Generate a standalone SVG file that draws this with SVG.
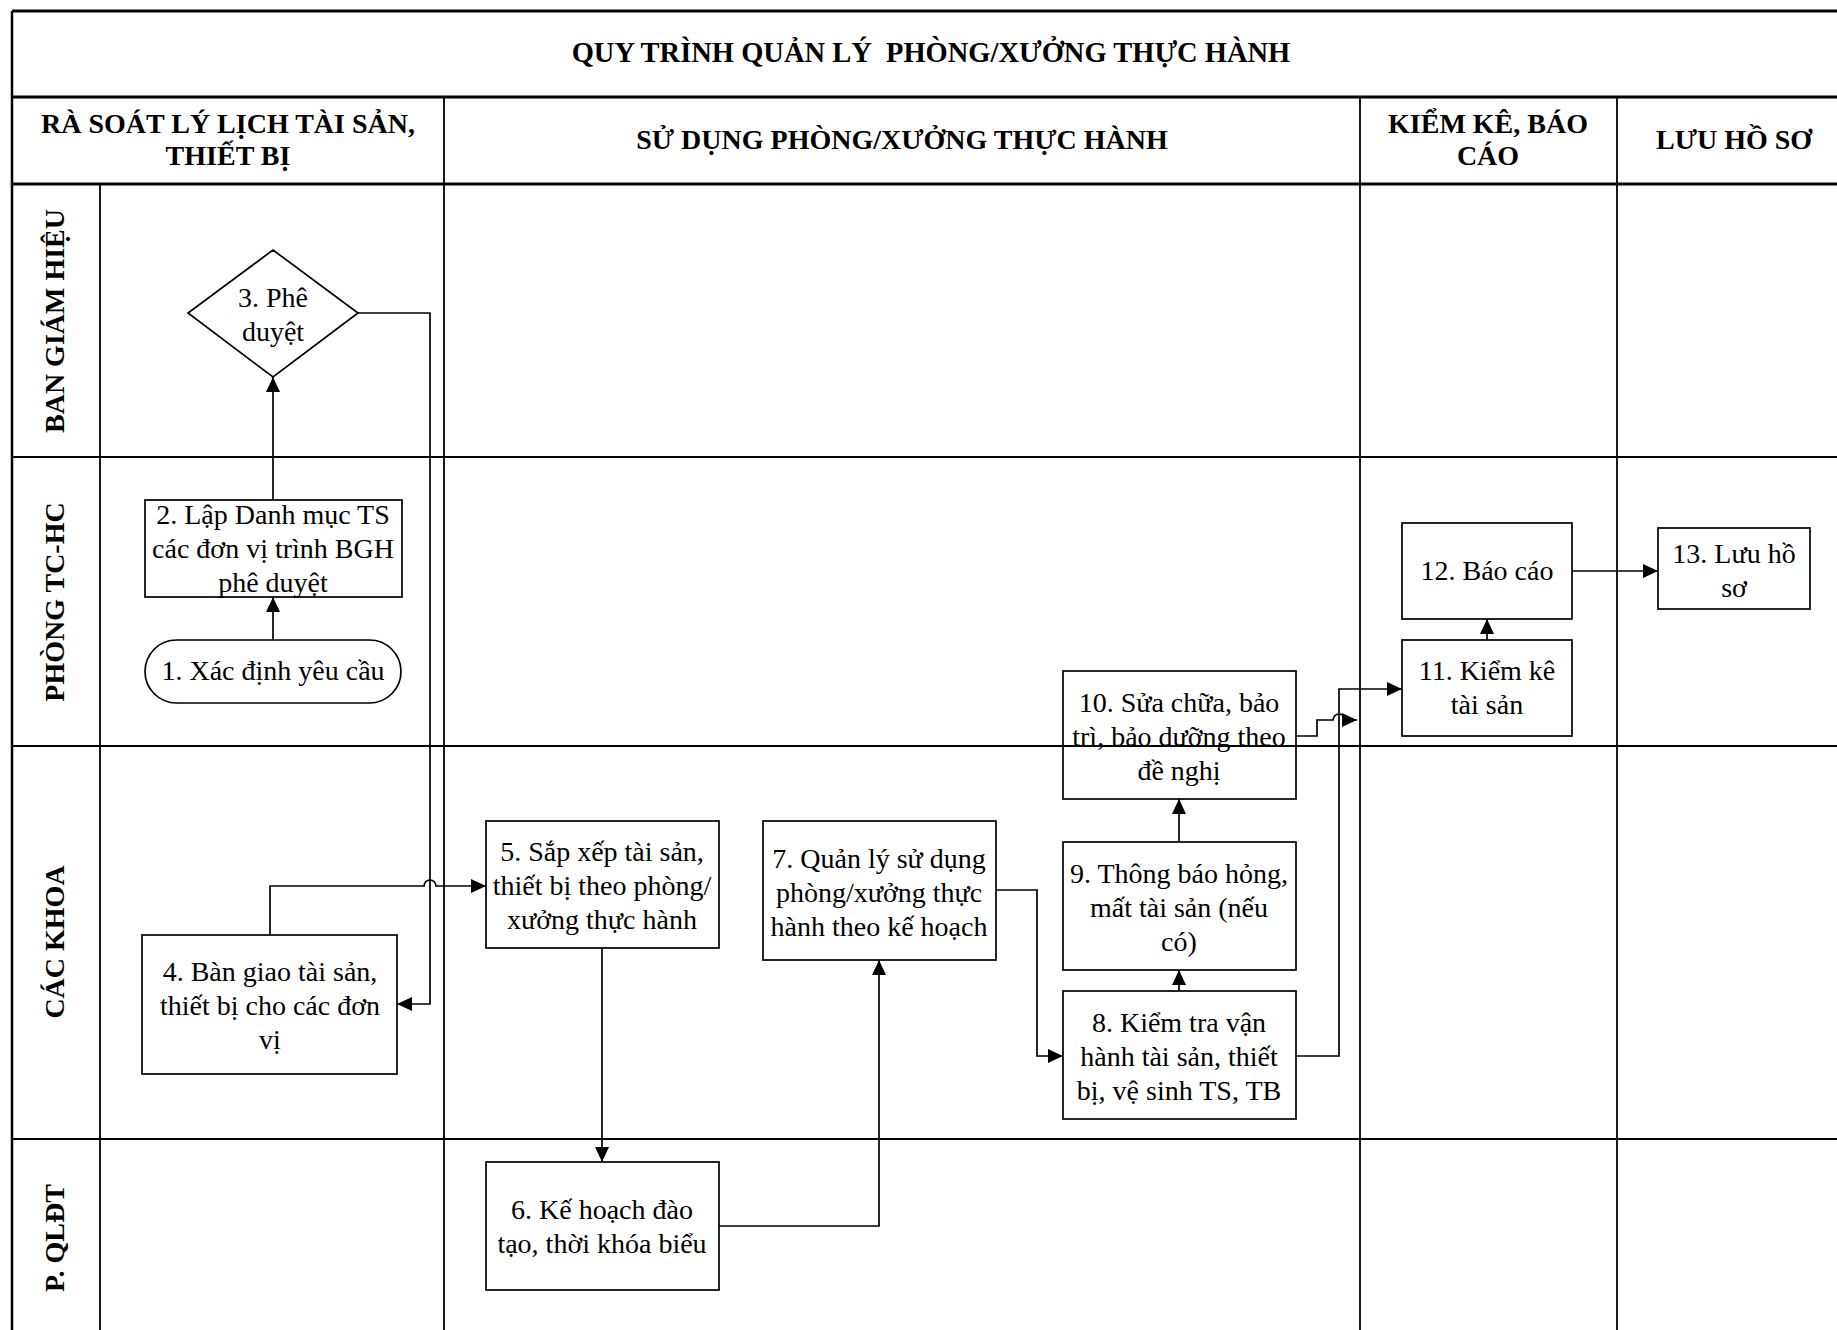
<svg xmlns="http://www.w3.org/2000/svg" width="1837" height="1330" viewBox="0 0 1837 1330">
<style>
text{font-family:"Liberation Serif","Times New Roman",serif;fill:#000}
.t{font-size:28px;text-anchor:middle}
.h{font-size:28px;font-weight:bold;text-anchor:middle;white-space:pre}
.g{stroke:#000;fill:none}
.n{stroke:#000;stroke-width:1.7;fill:none}
.c{stroke:#000;stroke-width:1.7;fill:none}
</style>
<defs>
<marker id="ar" markerUnits="userSpaceOnUse" markerWidth="16" markerHeight="15" refX="15" refY="7" orient="auto">
<path d="M0,0 L15,7 L0,14 z" fill="#000"/>
</marker>
</defs>
<rect width="1837" height="1330" fill="#fff"/>
<g id="grid">
<line class="g" x1="12" y1="11" x2="1837" y2="11" stroke-width="3"/>
<line class="g" x1="12" y1="11" x2="12" y2="1330" stroke-width="2.5"/>
<line class="g" x1="12" y1="97" x2="1837" y2="97" stroke-width="3"/>
<line class="g" x1="12" y1="184" x2="1837" y2="184" stroke-width="3"/>
<line class="g" x1="444" y1="97" x2="444" y2="1330" stroke-width="1.8"/>
<line class="g" x1="1360" y1="97" x2="1360" y2="1330" stroke-width="1.8"/>
<line class="g" x1="1617" y1="97" x2="1617" y2="1330" stroke-width="1.8"/>
<line class="g" x1="100" y1="184" x2="100" y2="1330" stroke-width="1.8"/>
<line class="g" x1="12" y1="457" x2="1837" y2="457" stroke-width="2.2"/>
<line class="g" x1="12" y1="746" x2="1837" y2="746" stroke-width="2.2"/>
<line class="g" x1="12" y1="1139" x2="1837" y2="1139" stroke-width="2.2"/>
</g>
<g id="headers">
<text class="h" x="931" y="62" style="font-size:28.5px">QUY TRÌNH QUẢN LÝ  PHÒNG/XƯỞNG THỰC HÀNH</text>
<text class="h" x="228" y="133">RÀ SOÁT LÝ LỊCH TÀI SẢN,</text>
<text class="h" x="228" y="165">THIẾT BỊ</text>
<text class="h" x="902" y="149">SỬ DỤNG PHÒNG/XƯỞNG THỰC HÀNH</text>
<text class="h" x="1488" y="133">KIỂM KÊ, BÁO</text>
<text class="h" x="1488" y="165">CÁO</text>
<text class="h" x="1734" y="149">LƯU HỒ SƠ</text>
</g>
<g id="lanes">
<text class="h" transform="translate(55,321) rotate(-90)" y="9">BAN GIÁM HIỆU</text>
<text class="h" transform="translate(55,602) rotate(-90)" y="9">PHÒNG TC-HC</text>
<text class="h" transform="translate(55,942) rotate(-90)" y="9">CÁC KHOA</text>
<text class="h" transform="translate(55,1238) rotate(-90)" y="9">P. QLĐT</text>
</g>
<g id="connectors">
<line class="c" x1="273" y1="640" x2="273" y2="597" marker-end="url(#ar)"/>
<line class="c" x1="273" y1="500" x2="273" y2="377" marker-end="url(#ar)"/>
<polyline class="c" points="358,313 430,313 430,1004 397,1004" marker-end="url(#ar)"/>
<path class="c" d="M270,935 L270,886 L424,886 A6,6 0 0 1 436,886 L486,886" marker-end="url(#ar)"/>
<line class="c" x1="602" y1="948" x2="602" y2="1162" marker-end="url(#ar)"/>
<polyline class="c" points="719,1226 879,1226 879,960" marker-end="url(#ar)"/>
<polyline class="c" points="996,890 1037,890 1037,1056 1063,1056" marker-end="url(#ar)"/>
<line class="c" x1="1179" y1="991" x2="1179" y2="970" marker-end="url(#ar)"/>
<line class="c" x1="1179" y1="842" x2="1179" y2="799" marker-end="url(#ar)"/>
<polyline class="c" points="1296,1056 1339,1056 1339,689 1402,689" marker-end="url(#ar)"/>
<path class="c" d="M1296,736 L1317,736 L1317,720 L1333,720 A6,6 0 0 1 1345,720 L1357,720" marker-end="url(#ar)"/>
<line class="c" x1="1487" y1="640" x2="1487" y2="619" marker-end="url(#ar)"/>
<line class="c" x1="1572" y1="571" x2="1658" y2="571" marker-end="url(#ar)"/>
</g>
<g id="n1"><rect class="n" x="145" y="640" width="256" height="63" rx="31.5"/><text class="t" x="273" y="680">1. Xác định yêu cầu</text></g>
<g id="n2"><rect class="n" x="145" y="500" width="257" height="97"/><text class="t" x="273" y="524">2. Lập Danh mục TS</text><text class="t" x="273" y="558">các đơn vị trình BGH</text><text class="t" x="273" y="592">phê duyệt</text></g>
<g id="n3"><polygon class="n" points="273,250 358,313 273,377 188,313"/><text class="t" x="273" y="307">3. Phê</text><text class="t" x="273" y="341">duyệt</text></g>
<g id="n4"><rect class="n" x="142" y="935" width="255" height="139"/><text class="t" x="270" y="981">4. Bàn giao tài sản,</text><text class="t" x="270" y="1015">thiết bị cho các đơn</text><text class="t" x="270" y="1049">vị</text></g>
<g id="n5"><rect class="n" x="486" y="821" width="233" height="127"/><text class="t" x="602" y="861">5. Sắp xếp tài sản,</text><text class="t" x="602" y="895">thiết bị theo phòng/</text><text class="t" x="602" y="929">xưởng thực hành</text></g>
<g id="n6"><rect class="n" x="486" y="1162" width="233" height="128"/><text class="t" x="602" y="1219">6. Kế hoạch đào</text><text class="t" x="602" y="1253">tạo, thời khóa biểu</text></g>
<g id="n7"><rect class="n" x="763" y="821" width="233" height="139"/><text class="t" x="879" y="868">7. Quản lý sử dụng</text><text class="t" x="879" y="902">phòng/xưởng thực</text><text class="t" x="879" y="936">hành theo kế hoạch</text></g>
<g id="n8"><rect class="n" x="1063" y="991" width="233" height="128"/><text class="t" x="1179" y="1032">8. Kiểm tra vận</text><text class="t" x="1179" y="1066">hành tài sản, thiết</text><text class="t" x="1179" y="1100">bị, vệ sinh TS, TB</text></g>
<g id="n9"><rect class="n" x="1063" y="842" width="233" height="128"/><text class="t" x="1179" y="883">9. Thông báo hỏng,</text><text class="t" x="1179" y="917">mất tài sản (nếu</text><text class="t" x="1179" y="951">có)</text></g>
<g id="n10"><rect class="n" x="1063" y="671" width="233" height="128"/><text class="t" x="1179" y="712">10. Sửa chữa, bảo</text><text class="t" x="1179" y="746">trì, bảo dưỡng theo</text><text class="t" x="1179" y="780">đề nghị</text></g>
<g id="n11"><rect class="n" x="1402" y="640" width="170" height="96"/><text class="t" x="1487" y="680">11. Kiểm kê</text><text class="t" x="1487" y="714">tài sản</text></g>
<g id="n12"><rect class="n" x="1402" y="523" width="170" height="96"/><text class="t" x="1487" y="580">12. Báo cáo</text></g>
<g id="n13"><rect class="n" x="1658" y="528" width="152" height="81"/><text class="t" x="1734" y="563">13. Lưu hồ</text><text class="t" x="1734" y="597">sơ</text></g>
</svg>
